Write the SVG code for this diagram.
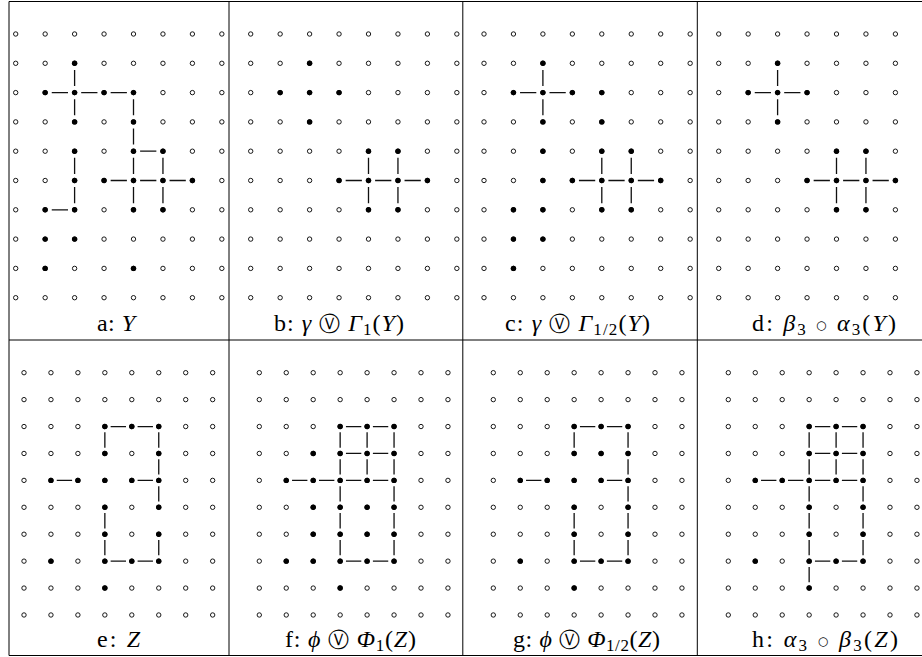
<svg xmlns="http://www.w3.org/2000/svg" xmlns:xlink="http://www.w3.org/1999/xlink" width="922" height="657" viewBox="0 0 922 657">
<style>
.o{fill:#fff;stroke:#000;stroke-width:0.9}
.fd{fill:#000}
.e{fill:none;stroke:#111;stroke-width:1.3}
.tb{fill:none;stroke:#000;stroke-width:1}
.lbl{font-family:"Liberation Serif","DejaVu Serif",serif;font-size:24px;fill:#000;text-anchor:middle}
.i{font-style:italic}
.op{font-family:"DejaVu Sans",sans-serif;font-size:21px}
.ring{font-family:"DejaVu Sans",sans-serif;font-size:12px}
.sb{font-size:17px}
</style>
<defs>
<circle id="od" class="o" r="2.2"/>
<circle id="f" class="fd" r="2.7"/>
<g id="rowT"><use href="#od" x="0"/><use href="#od" x="29.45"/><use href="#od" x="58.9"/><use href="#od" x="88.35"/><use href="#od" x="117.8"/><use href="#od" x="147.25"/><use href="#od" x="176.7"/><use href="#od" x="206.15"/></g>
<g id="gridT"><use href="#rowT" y="0"/><use href="#rowT" y="29.3"/><use href="#rowT" y="58.6"/><use href="#rowT" y="87.9"/><use href="#rowT" y="117.2"/><use href="#rowT" y="146.5"/><use href="#rowT" y="175.8"/><use href="#rowT" y="205.1"/><use href="#rowT" y="234.4"/><use href="#rowT" y="263.7"/></g>
<g id="rowB"><use href="#od" x="0"/><use href="#od" x="26.95"/><use href="#od" x="53.9"/><use href="#od" x="80.85"/><use href="#od" x="107.8"/><use href="#od" x="134.75"/><use href="#od" x="161.7"/><use href="#od" x="188.65"/></g>
<g id="gridB"><use href="#rowB" y="0"/><use href="#rowB" y="26.92"/><use href="#rowB" y="53.84"/><use href="#rowB" y="80.76"/><use href="#rowB" y="107.68"/><use href="#rowB" y="134.6"/><use href="#rowB" y="161.52"/><use href="#rowB" y="188.44"/><use href="#rowB" y="215.36"/><use href="#rowB" y="242.28"/></g>
</defs>
<rect width="922" height="657" fill="#fff"/>
<g id="table" class="tb">
<path d="M9 1.5H922M9 340H922M9 655.5H922M9 1.5V655.5M229 1.5V655.5M462.8 1.5V655.5M697.3 1.5V655.5"/>
</g>

<g id="panel-a" transform="translate(15.7,34)">
<use href="#gridT"/>
<g id="edges-a" class="e"><path d="M58.9 35.9v16.1M36.05 58.6h16.25M65.5 58.6h16.25M94.95 58.6h16.25M58.9 65.2v16.1M117.8 65.2v16.1M117.8 94.5v16.1M124.4 117.2h16.25M58.9 123.8v16.1M117.8 123.8v16.1M147.25 123.8v16.1M94.95 146.5h16.25M124.4 146.5h16.25M153.85 146.5h16.25M58.9 153.1v16.1M117.8 153.1v16.1M147.25 153.1v16.1M36.05 175.8h16.25"/></g>
<use href="#f" x="58.9" y="29.3"/><use href="#f" x="29.45" y="58.6"/><use href="#f" x="58.9" y="58.6"/><use href="#f" x="88.35" y="58.6"/><use href="#f" x="117.8" y="58.6"/><use href="#f" x="58.9" y="87.9"/><use href="#f" x="117.8" y="87.9"/><use href="#f" x="58.9" y="117.2"/><use href="#f" x="117.8" y="117.2"/><use href="#f" x="147.25" y="117.2"/><use href="#f" x="58.9" y="146.5"/><use href="#f" x="88.35" y="146.5"/><use href="#f" x="117.8" y="146.5"/><use href="#f" x="147.25" y="146.5"/><use href="#f" x="176.7" y="146.5"/><use href="#f" x="29.45" y="175.8"/><use href="#f" x="58.9" y="175.8"/><use href="#f" x="117.8" y="175.8"/><use href="#f" x="147.25" y="175.8"/><use href="#f" x="29.45" y="205.1"/><use href="#f" x="58.9" y="205.1"/><use href="#f" x="29.45" y="234.4"/><use href="#f" x="117.8" y="234.4"/>
</g>

<g id="panel-b" transform="translate(250.7,34)">
<use href="#gridT"/>
<g id="edges-b" class="e"><path d="M117.8 123.8v16.1M147.25 123.8v16.1M94.95 146.5h16.25M124.4 146.5h16.25M153.85 146.5h16.25M117.8 153.1v16.1M147.25 153.1v16.1"/></g>
<use href="#f" x="58.9" y="29.3"/><use href="#f" x="29.45" y="58.6"/><use href="#f" x="58.9" y="58.6"/><use href="#f" x="88.35" y="58.6"/><use href="#f" x="58.9" y="87.9"/><use href="#f" x="117.8" y="117.2"/><use href="#f" x="147.25" y="117.2"/><use href="#f" x="88.35" y="146.5"/><use href="#f" x="117.8" y="146.5"/><use href="#f" x="147.25" y="146.5"/><use href="#f" x="176.7" y="146.5"/><use href="#f" x="117.8" y="175.8"/><use href="#f" x="147.25" y="175.8"/>
</g>

<g id="panel-c" transform="translate(484,34)">
<use href="#gridT"/>
<g id="edges-c" class="e"><path d="M58.9 35.9v16.1M36.05 58.6h16.25M65.5 58.6h16.25M58.9 65.2v16.1M117.8 123.8v16.1M147.25 123.8v16.1M94.95 146.5h16.25M124.4 146.5h16.25M153.85 146.5h16.25M117.8 153.1v16.1M147.25 153.1v16.1"/></g>
<use href="#f" x="58.9" y="29.3"/><use href="#f" x="29.45" y="58.6"/><use href="#f" x="58.9" y="58.6"/><use href="#f" x="88.35" y="58.6"/><use href="#f" x="117.8" y="58.6"/><use href="#f" x="58.9" y="87.9"/><use href="#f" x="117.8" y="87.9"/><use href="#f" x="58.9" y="117.2"/><use href="#f" x="117.8" y="117.2"/><use href="#f" x="147.25" y="117.2"/><use href="#f" x="58.9" y="146.5"/><use href="#f" x="88.35" y="146.5"/><use href="#f" x="117.8" y="146.5"/><use href="#f" x="147.25" y="146.5"/><use href="#f" x="176.7" y="146.5"/><use href="#f" x="29.45" y="175.8"/><use href="#f" x="58.9" y="175.8"/><use href="#f" x="117.8" y="175.8"/><use href="#f" x="147.25" y="175.8"/><use href="#f" x="29.45" y="205.1"/><use href="#f" x="58.9" y="205.1"/><use href="#f" x="29.45" y="234.4"/>
</g>

<g id="panel-d" transform="translate(718.7,34)">
<use href="#gridT"/>
<g id="edges-d" class="e"><path d="M58.9 35.9v16.1M36.05 58.6h16.25M65.5 58.6h16.25M58.9 65.2v16.1M117.8 123.8v16.1M147.25 123.8v16.1M94.95 146.5h16.25M124.4 146.5h16.25M153.85 146.5h16.25M117.8 153.1v16.1M147.25 153.1v16.1"/></g>
<use href="#f" x="58.9" y="29.3"/><use href="#f" x="29.45" y="58.6"/><use href="#f" x="58.9" y="58.6"/><use href="#f" x="88.35" y="58.6"/><use href="#f" x="58.9" y="87.9"/><use href="#f" x="117.8" y="117.2"/><use href="#f" x="147.25" y="117.2"/><use href="#f" x="88.35" y="146.5"/><use href="#f" x="117.8" y="146.5"/><use href="#f" x="147.25" y="146.5"/><use href="#f" x="176.7" y="146.5"/><use href="#f" x="117.8" y="175.8"/><use href="#f" x="147.25" y="175.8"/>
</g>

<g id="panel-e" transform="translate(24,372.7)">
<use href="#gridB"/>
<g id="edges-e" class="e"><path d="M86.65 53.84h15.35M113.6 53.84h15.35M80.85 59.64v15.32M134.75 59.64v15.32M134.75 86.56v15.32M32.75 107.68h15.35M113.6 107.68h15.35M134.75 113.48v15.32M80.85 140.4v15.32M134.75 167.32v15.32M80.85 167.32v15.32M86.65 188.44h15.35M113.6 188.44h15.35"/></g>
<use href="#f" x="80.85" y="53.84"/><use href="#f" x="107.8" y="53.84"/><use href="#f" x="134.75" y="53.84"/><use href="#f" x="80.85" y="80.76"/><use href="#f" x="134.75" y="80.76"/><use href="#f" x="26.95" y="107.68"/><use href="#f" x="53.9" y="107.68"/><use href="#f" x="80.85" y="107.68"/><use href="#f" x="107.8" y="107.68"/><use href="#f" x="134.75" y="107.68"/><use href="#f" x="80.85" y="134.6"/><use href="#f" x="134.75" y="134.6"/><use href="#f" x="80.85" y="161.52"/><use href="#f" x="134.75" y="161.52"/><use href="#f" x="26.95" y="188.44"/><use href="#f" x="80.85" y="188.44"/><use href="#f" x="107.8" y="188.44"/><use href="#f" x="134.75" y="188.44"/><use href="#f" x="80.85" y="215.36"/>
</g>

<g id="panel-f" transform="translate(259.3,372.7)">
<use href="#gridB"/>
<g id="edges-f" class="e"><path d="M86.65 53.84h15.35M113.6 53.84h15.35M80.85 59.64v15.32M107.8 59.64v15.32M134.75 59.64v15.32M86.65 80.76h15.35M113.6 80.76h15.35M80.85 86.56v15.32M107.8 86.56v15.32M134.75 86.56v15.32M32.75 107.68h15.35M59.7 107.68h15.35M86.65 107.68h15.35M113.6 107.68h15.35M80.85 113.48v15.32M134.75 113.48v15.32M80.85 140.4v15.32M134.75 140.4v15.32M80.85 167.32v15.32M134.75 167.32v15.32M86.65 188.44h15.35M113.6 188.44h15.35"/></g>
<use href="#f" x="80.85" y="53.84"/><use href="#f" x="107.8" y="53.84"/><use href="#f" x="134.75" y="53.84"/><use href="#f" x="53.9" y="80.76"/><use href="#f" x="80.85" y="80.76"/><use href="#f" x="107.8" y="80.76"/><use href="#f" x="134.75" y="80.76"/><use href="#f" x="26.95" y="107.68"/><use href="#f" x="53.9" y="107.68"/><use href="#f" x="80.85" y="107.68"/><use href="#f" x="107.8" y="107.68"/><use href="#f" x="134.75" y="107.68"/><use href="#f" x="53.9" y="134.6"/><use href="#f" x="80.85" y="134.6"/><use href="#f" x="107.8" y="134.6"/><use href="#f" x="134.75" y="134.6"/><use href="#f" x="53.9" y="161.52"/><use href="#f" x="80.85" y="161.52"/><use href="#f" x="107.8" y="161.52"/><use href="#f" x="134.75" y="161.52"/><use href="#f" x="26.95" y="188.44"/><use href="#f" x="53.9" y="188.44"/><use href="#f" x="80.85" y="188.44"/><use href="#f" x="107.8" y="188.44"/><use href="#f" x="134.75" y="188.44"/><use href="#f" x="80.85" y="215.36"/>
</g>

<g id="panel-g" transform="translate(493.3,372.7)">
<use href="#gridB"/>
<g id="edges-g" class="e"><path d="M86.65 53.84h15.35M113.6 53.84h15.35M80.85 59.64v15.32M134.75 59.64v15.32M134.75 86.56v15.32M32.75 107.68h15.35M113.6 107.68h15.35M134.75 113.48v15.32M80.85 140.4v15.32M134.75 140.4v15.32M80.85 167.32v15.32M134.75 167.32v15.32M86.65 188.44h15.35M113.6 188.44h15.35"/></g>
<use href="#f" x="80.85" y="53.84"/><use href="#f" x="107.8" y="53.84"/><use href="#f" x="134.75" y="53.84"/><use href="#f" x="80.85" y="80.76"/><use href="#f" x="107.8" y="80.76"/><use href="#f" x="134.75" y="80.76"/><use href="#f" x="26.95" y="107.68"/><use href="#f" x="53.9" y="107.68"/><use href="#f" x="80.85" y="107.68"/><use href="#f" x="107.8" y="107.68"/><use href="#f" x="134.75" y="107.68"/><use href="#f" x="80.85" y="134.6"/><use href="#f" x="134.75" y="134.6"/><use href="#f" x="80.85" y="161.52"/><use href="#f" x="134.75" y="161.52"/><use href="#f" x="26.95" y="188.44"/><use href="#f" x="80.85" y="188.44"/><use href="#f" x="107.8" y="188.44"/><use href="#f" x="134.75" y="188.44"/><use href="#f" x="80.85" y="215.36"/>
</g>

<g id="panel-h" transform="translate(728.3,372.7)">
<use href="#gridB"/>
<g id="edges-h" class="e"><path d="M86.65 53.84h15.35M113.6 53.84h15.35M80.85 59.64v15.32M107.8 59.64v15.32M134.75 59.64v15.32M86.65 80.76h15.35M113.6 80.76h15.35M80.85 86.56v15.32M107.8 86.56v15.32M134.75 86.56v15.32M32.75 107.68h15.35M59.7 107.68h15.35M86.65 107.68h15.35M113.6 107.68h15.35M80.85 113.48v15.32M134.75 113.48v15.32M80.85 140.4v15.32M134.75 140.4v15.32M80.85 167.32v15.32M134.75 167.32v15.32M86.65 188.44h15.35M113.6 188.44h15.35M80.85 194.24v15.32"/></g>
<use href="#f" x="80.85" y="53.84"/><use href="#f" x="107.8" y="53.84"/><use href="#f" x="134.75" y="53.84"/><use href="#f" x="80.85" y="80.76"/><use href="#f" x="107.8" y="80.76"/><use href="#f" x="134.75" y="80.76"/><use href="#f" x="26.95" y="107.68"/><use href="#f" x="53.9" y="107.68"/><use href="#f" x="80.85" y="107.68"/><use href="#f" x="107.8" y="107.68"/><use href="#f" x="134.75" y="107.68"/><use href="#f" x="80.85" y="134.6"/><use href="#f" x="134.75" y="134.6"/><use href="#f" x="80.85" y="161.52"/><use href="#f" x="134.75" y="161.52"/><use href="#f" x="26.95" y="188.44"/><use href="#f" x="80.85" y="188.44"/><use href="#f" x="107.8" y="188.44"/><use href="#f" x="134.75" y="188.44"/><use href="#f" x="80.85" y="215.36"/>
</g>

<g id="labels" class="lbl">
<text x="116" y="331" textLength="38" lengthAdjust="spacing">a: <tspan class="i">Y</tspan></text>
<text x="339" y="331" textLength="130" lengthAdjust="spacing">b: <tspan class="i">γ</tspan> <tspan class="op">Ⓥ</tspan> <tspan class="i">Γ</tspan><tspan class="sb" dy="4">1</tspan><tspan dy="-4">(</tspan><tspan class="i">Y</tspan>)</text>
<text x="577.5" y="331" textLength="145" lengthAdjust="spacing">c: <tspan class="i">γ</tspan> <tspan class="op">Ⓥ</tspan> <tspan class="i">Γ</tspan><tspan class="sb" dy="4">1/2</tspan><tspan dy="-4">(</tspan><tspan class="i">Y</tspan>)</text>
<text x="824" y="331" textLength="144" lengthAdjust="spacing">d: <tspan class="i">β</tspan><tspan class="sb" dy="4">3</tspan><tspan dy="-4"> </tspan><tspan class="ring" dy="-2.5">○</tspan><tspan dy="2.5"> </tspan><tspan class="i">α</tspan><tspan class="sb" dy="4">3</tspan><tspan dy="-4">(</tspan><tspan class="i">Y</tspan>)</text>
<text x="118.5" y="647" textLength="43" lengthAdjust="spacing">e: <tspan class="i">Z</tspan></text>
<text x="350.5" y="647" textLength="131" lengthAdjust="spacing">f: <tspan class="i">ϕ</tspan> <tspan class="op">Ⓥ</tspan> <tspan class="i">Φ</tspan><tspan class="sb" dy="4">1</tspan><tspan dy="-4">(</tspan><tspan class="i">Z</tspan>)</text>
<text x="586.5" y="647" textLength="147" lengthAdjust="spacing">g: <tspan class="i">ϕ</tspan> <tspan class="op">Ⓥ</tspan> <tspan class="i">Φ</tspan><tspan class="sb" dy="4">1/2</tspan><tspan dy="-4">(</tspan><tspan class="i">Z</tspan>)</text>
<text x="825" y="647" textLength="146" lengthAdjust="spacing">h: <tspan class="i">α</tspan><tspan class="sb" dy="4">3</tspan><tspan dy="-4"> </tspan><tspan class="ring" dy="-2.5">○</tspan><tspan dy="2.5"> </tspan><tspan class="i">β</tspan><tspan class="sb" dy="4">3</tspan><tspan dy="-4">(</tspan><tspan class="i">Z</tspan>)</text>
</g>
</svg>
